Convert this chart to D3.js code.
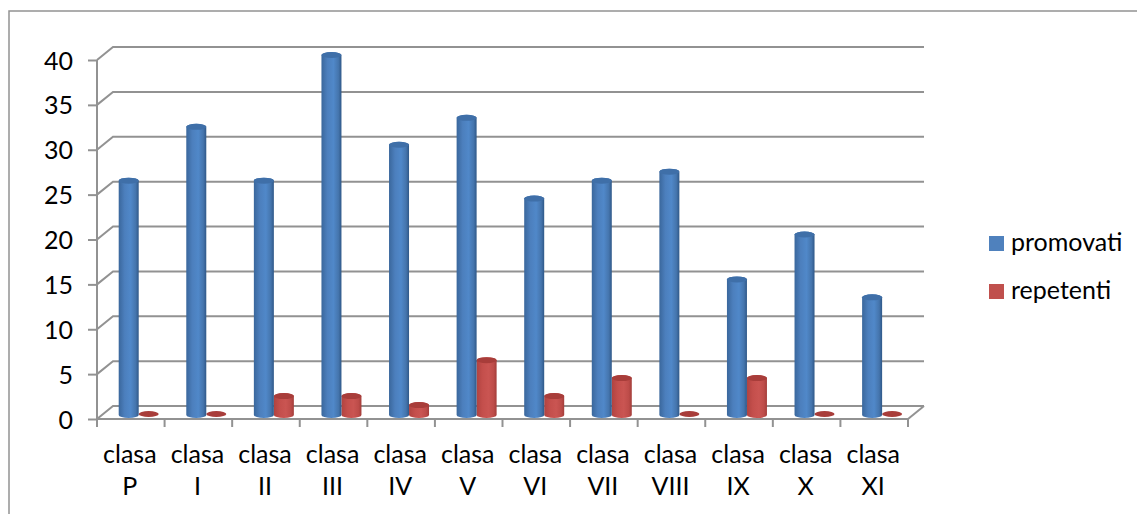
<!DOCTYPE html>
<html>
  <head>
    <meta charset="utf-8">
    <script src="https://d3js.org/d3.v7.min.js"></script>
    <title>promovati / repetenti</title>
    <style>
      html, body { margin: 0; background: #fff; }
      svg { display: block; }
      text { font-family: Lato, sans-serif; }
      .tick text { fill: #000; }
      .y-axis .tick text { font-size: 25px; }
      .x-axis .tick text { font-size: 25px; }
      .domain, .tick line { stroke: #929292; stroke-width: 2; }
      .legend text { font-size: 25px; fill: #000; }
    </style>
  </head>
  <body>
    <svg id="chart" width="1137" height="514"></svg>
    <script>
      const classes = ['P', 'I', 'II', 'III', 'IV', 'V', 'VI', 'VII', 'VIII', 'IX', 'X', 'XI'];
      const promovati = [26, 32, 26, 40, 30, 33, 24, 26, 27, 15, 20, 13];
      const repetenti = [0, 0, 2, 2, 1, 6, 2, 4, 0, 4, 0, 0];
      const yTicks = [0, 5, 10, 15, 20, 25, 30, 35, 40];
      const seriesNames = ['promovati', 'repetenti'];

      const svg = d3.select('#chart');
      const grey = '#929292';

      // chart frame, runs off the right and bottom of the picture
      svg.append('path')
        .attr('d', 'M9,514V11H1137')
        .attr('fill', 'none')
        .attr('stroke', grey)
        .attr('stroke-width', 1.5);

      const xScale = d3.scaleBand().domain(classes).range([97, 908]);
      const yScale = d3.scaleLinear().domain([0, 40]).range([419, 60]);
      const barScale = d3.scaleBand().domain(seriesNames).range([21.7, 61.7]);

      // 3d depth of the back wall and of the plane the bars stand on
      const depth = { x: 16, y: -13 };
      const barLift = -5;

      const defs = svg.append('defs');
      const gradient = (id, stops) => {
        const g = defs.append('linearGradient').attr('id', id);
        stops.forEach(([o, c]) => g.append('stop').attr('offset', o).attr('stop-color', c));
      };
      gradient('blue-cyl', [[0, '#3a679c'], [0.3, '#4c7fbd'], [0.6, '#5088c9'], [0.85, '#4575ad'], [1, '#2f5888']]);
      gradient('red-cyl', [[0, '#b04340'], [0.3, '#c44f4c'], [0.6, '#ca5552'], [0.85, '#bd4c49'], [1, '#a33d3a']]);

      // back wall and floor
      const walls = svg.append('g')
        .attr('fill', 'none')
        .attr('stroke', grey)
        .attr('stroke-width', 2);
      const x0 = xScale.range()[0];
      const x1 = xScale.range()[1];

      walls.selectAll('.grid').data(yTicks).enter().append('path')
        .attr('class', 'grid')
        .attr('d', d => `M${x0},${yScale(d)}L${x0 + depth.x},${yScale(d) + depth.y}H${x1 + depth.x}`);
      walls.append('path')
        .attr('d', `M${x1},${yScale(0)}L${x1 + depth.x},${yScale(0) + depth.y}`);

      // axes
      const yAxis = d3.axisLeft(yScale).tickValues(yTicks).tickSize(9).tickPadding(15);
      svg.append('g')
        .attr('class', 'y-axis')
        .attr('transform', `translate(${x0},0)`)
        .call(yAxis)
        .call(g => g.select('.domain').attr('d', `M0,${yScale(40)}V${yScale(0)}`))
        .call(g => g.selectAll('.tick text').attr('y', 1));

      const xAxis = d3.axisBottom(xScale).tickSize(0).tickPadding(0);
      const xAxisG = svg.append('g')
        .attr('class', 'x-axis')
        .attr('transform', `translate(0,${yScale(0)})`)
        .call(xAxis);
      xAxisG.select('.domain').attr('d', `M${x0},0H${x1}`);
      xAxisG.selectAll('.tick text').each(function (d) {
        const t = d3.select(this).text(null).attr('y', null).attr('dy', null);
        t.append('tspan').attr('x', -1).attr('y', 44).text('clasa');
        t.append('tspan').attr('x', -1).attr('y', 76).text(d);
      });
      xAxisG.selectAll('.sep').data(classes.concat(['end'])).enter().append('line')
        .attr('class', 'sep')
        .attr('x1', (d, i) => x0 + i * xScale.bandwidth())
        .attr('x2', (d, i) => x0 + i * xScale.bandwidth())
        .attr('y1', 0)
        .attr('y2', 8)
        .attr('stroke', grey)
        .attr('stroke-width', 2);

      // cylinders
      const rx = 10;
      const ry = 3;
      const cylinder = (cx, value) => {
        const base = yScale(0) + barLift + 1;
        const top = yScale(value) + barLift;
        return `M${cx - rx},${top}V${base}A${rx},${ry} 0 0 0 ${cx + rx},${base}V${top}A${rx},${ry} 0 0 0 ${cx - rx},${top}Z`;
      };
      const drawSeries = (name, values, fill, capColor) => {
        const cx = i => xScale(classes[i]) + barScale(name) + barScale.bandwidth() / 2;
        const bars = svg.append('g').selectAll('g').data(values).enter().append('g');
        bars.append('path')
          .attr('d', (d, i) => d > 0 ? cylinder(cx(i), d) : null)
          .attr('fill', `url(#${fill})`);
        bars.append('ellipse')
          .attr('cx', (d, i) => cx(i))
          .attr('cy', d => yScale(d) + barLift)
          .attr('rx', rx)
          .attr('ry', ry)
          .attr('fill', capColor);
      };
      drawSeries('repetenti', repetenti, 'red-cyl', '#a83d3a');
      drawSeries('promovati', promovati, 'blue-cyl', '#3f6fa8');

      // legend
      const legendY = d3.scaleBand().domain(seriesNames).range([236, 332]);
      const legendColors = d3.scaleOrdinal().domain(seriesNames).range(['#4f81bd', '#c0504d']);
      const items = svg.append('g').attr('class', 'legend')
        .selectAll('g').data(seriesNames).enter().append('g')
        .attr('transform', d => `translate(989,${legendY(d)})`);
      items.append('rect')
        .attr('width', 15)
        .attr('height', 15)
        .attr('fill', d => legendColors(d));
      items.append('text')
        .attr('x', 22)
        .attr('y', 15)
        .text(d => d);
    </script>
  </body>
</html>
